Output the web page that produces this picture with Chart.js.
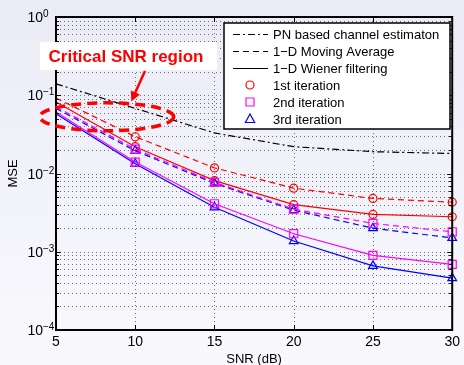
<!DOCTYPE html>
<html>
<head>
<meta charset="utf-8">
<script src="https://cdn.jsdelivr.net/npm/chart.js@4.4.0/dist/chart.umd.min.js"></script>
<style>
    html, body { margin: 0; padding: 0; }
    body { width: 464px; height: 365px; overflow: hidden; background: linear-gradient(#ebebf7, #f9f9fd); }
</style>
</head>
<body>
<canvas id="mseChart" width="464" height="365"></canvas>
<script>
// SNR (dB) on the x axis
const snr = [5, 10, 15, 20, 25, 30];
// MSE values
const pnBased = [0.14, 0.068, 0.033, 0.022, 0.019, 0.018];
const movAvg1 = [0.092, 0.0295, 0.0118, 0.0065, 0.0048, 0.0043];
const movAvg2 = [0.071, 0.0205, 0.0077, 0.0035, 0.0023, 0.0018];
const movAvg3 = [0.068, 0.0195, 0.0075, 0.0034, 0.0020, 0.0015];
const wiener1 = [0.082, 0.022, 0.0081, 0.0040, 0.0030, 0.0028];
const wiener2 = [0.061, 0.0140, 0.0041, 0.0017, 0.00090, 0.00069];
const wiener3 = [0.058, 0.0133, 0.0037, 0.00137, 0.00066, 0.00046];
const xTicks = [5, 10, 15, 20, 25, 30];
const yDecades = [-4, -3, -2, -1, 0];
const legendLabels = ['PN based channel estimaton', '1\u2212D Moving Average', '1\u2212D Wiener filtering',
    '1st iteration', '2nd iteration', '3rd iteration'];
const noteText = 'Critical SNR region';

const FONT = '"Liberation Sans", Arial, Helvetica, sans-serif';
const RED = '#ff0000', MAG = '#ff00ff', BLUE = '#0000ff';
const DASH = [6, 4], DASHDOT = [7, 3, 2, 3];

function pts(vals) {
    return snr.map((x, i) => ({ x: x, y: vals[i] }));
}

function series(label, vals, color, dash, style, radius) {
    // no marker at the first SNR point, like the original figure
    const r = snr.map((x, i) => (i == 0 ? 0 : radius));
    return {
        label: label,
        data: pts(vals),
        borderColor: color,
        borderWidth: 1.2,
        borderDash: dash,
        pointStyle: style,
        pointRadius: r,
        pointHoverRadius: r,
        pointBorderColor: color,
        pointBorderWidth: 1.2,
        pointBackgroundColor: 'rgba(0,0,0,0)',
        fill: false,
        tension: 0,
        clip: false
    };
}

function drawMarker(ctx, style, x, y, color) {
    ctx.save();
    ctx.strokeStyle = color;
    ctx.lineWidth = 1.2;
    ctx.setLineDash([]);
    ctx.beginPath();
    if (style == 'circle') {
        ctx.arc(x, y, 4, 0, Math.PI * 2);
    } else if (style == 'rect') {
        ctx.rect(x - 4, y - 4, 8, 8);
    } else {
        ctx.moveTo(x, y - 5);
        ctx.lineTo(x + 4.6, y + 3.5);
        ctx.lineTo(x - 4.6, y + 3.5);
        ctx.closePath();
    }
    ctx.stroke();
    ctx.restore();
}

const gridPlugin = {
    id: 'dotgrid',
    beforeDatasetsDraw(chart) {
        const ctx = chart.ctx;
        const a = chart.chartArea;
        const xs = chart.scales.x, ys = chart.scales.y;
        ctx.save();
        ctx.strokeStyle = '#6e6e6e';
        ctx.lineWidth = 1;
        ctx.setLineDash([1, 3]);
        ctx.beginPath();
        ys.ticks.forEach(t => {
            const py = Math.round(ys.getPixelForValue(t.value)) + 0.5;
            ctx.moveTo(a.left, py); ctx.lineTo(a.right, py);
        });
        xs.ticks.forEach(t => {
            const px = Math.round(xs.getPixelForValue(t.value)) + 0.5;
            ctx.moveTo(px, a.bottom); ctx.lineTo(px, a.top);
        });
        ctx.stroke();
        ctx.restore();
    }
};

const framePlugin = {
    id: 'frame',
    afterDatasetsDraw(chart) {
        const ctx = chart.ctx;
        const a = chart.chartArea;
        const xs = chart.scales.x, ys = chart.scales.y;
        ctx.save();

        // inward ticks
        ctx.strokeStyle = '#000';
        ctx.lineWidth = 1;
        ctx.beginPath();
        ys.ticks.forEach(t => {
            const py = Math.round(ys.getPixelForValue(t.value)) + 0.5;
            const lg = Math.log10(t.value);
            const len = Math.abs(lg - Math.round(lg)) < 1e-6 ? 5 : 3;
            ctx.moveTo(a.left, py); ctx.lineTo(a.left + len, py);
            ctx.moveTo(a.right, py); ctx.lineTo(a.right - len, py);
        });
        xs.ticks.forEach(t => {
            const px = Math.round(xs.getPixelForValue(t.value)) + 0.5;
            ctx.moveTo(px, a.bottom); ctx.lineTo(px, a.bottom - 5);
            ctx.moveTo(px, a.top); ctx.lineTo(px, a.top + 5);
        });
        ctx.stroke();

        // box
        ctx.lineWidth = 2;
        ctx.strokeRect(a.left, a.top, a.right - a.left, a.bottom - a.top);

        // y labels 10^n
        ctx.fillStyle = '#000';
        yDecades.forEach(e => {
            const py = ys.getPixelForValue(Math.pow(10, e));
            ctx.font = '14px ' + FONT;
            ctx.textAlign = 'right';
            ctx.textBaseline = 'alphabetic';
            ctx.fillText('10', a.left - 13, py + 5);
            ctx.font = '10px ' + FONT;
            ctx.textAlign = 'left';
            ctx.fillText(e == 0 ? '0' : '\u2212' + Math.abs(e), a.left - 13, py);
        });

        // legend
        const lx = 224, ly = 23, lw = 226, lh = 106;
        ctx.fillStyle = '#fff';
        ctx.fillRect(lx, ly, lw, lh);
        ctx.strokeStyle = '#000';
        ctx.lineWidth = 1.5;
        ctx.strokeRect(lx, ly, lw, lh);
        const rows = [34, 51, 68, 85, 102, 119];
        const lineDash = [DASHDOT, DASH, []];
        ctx.font = '13px ' + FONT;
        ctx.textAlign = 'left';
        ctx.textBaseline = 'middle';
        legendLabels.forEach((lab, i) => {
            const ry = rows[i];
            if (i < 3) {
                ctx.save();
                ctx.strokeStyle = '#000';
                ctx.lineWidth = 1.2;
                ctx.setLineDash(lineDash[i]);
                ctx.beginPath();
                ctx.moveTo(233, ry + 0.5);
                ctx.lineTo(268, ry + 0.5);
                ctx.stroke();
                ctx.restore();
            } else {
                drawMarker(ctx, ['circle', 'rect', 'triangle'][i - 3], 250, ry, [RED, MAG, BLUE][i - 3]);
            }
            ctx.fillStyle = '#000';
            ctx.fillText(lab, 273, ry + 1);
        });

        // critical region annotation
        const cx = xs.getPixelForValue(8.2), cy = ys.getPixelForValue(0.053);
        ctx.save();
        ctx.strokeStyle = RED;
        ctx.lineWidth = 3.5;
        ctx.setLineDash([10, 6]);
        ctx.beginPath();
        ctx.ellipse(cx, cy, 67, 14, 0, 0, Math.PI * 2);
        ctx.stroke();
        ctx.restore();

        ctx.fillStyle = '#fff';
        ctx.fillRect(40, 42, 177, 28);
        ctx.fillStyle = RED;
        ctx.font = 'bold 17px ' + FONT;
        ctx.textAlign = 'center';
        ctx.textBaseline = 'middle';
        ctx.fillText(noteText, 126, 57);

        // arrow
        const tx = xs.getPixelForValue(9.75), ty = ys.getPixelForValue(0.083);
        const fx = 145, fy = 71;
        const ang = Math.atan2(ty - fy, tx - fx);
        ctx.strokeStyle = RED;
        ctx.lineWidth = 2.5;
        ctx.beginPath();
        ctx.moveTo(fx, fy);
        ctx.lineTo(tx - 6 * Math.cos(ang), ty - 6 * Math.sin(ang));
        ctx.stroke();
        ctx.beginPath();
        ctx.moveTo(tx, ty);
        ctx.lineTo(tx - 10 * Math.cos(ang) + 5 * Math.sin(ang), ty - 10 * Math.sin(ang) - 5 * Math.cos(ang));
        ctx.lineTo(tx - 10 * Math.cos(ang) - 5 * Math.sin(ang), ty - 10 * Math.sin(ang) + 5 * Math.cos(ang));
        ctx.closePath();
        ctx.fill();

        ctx.restore();
    }
};

const ctx = document.getElementById('mseChart').getContext('2d');
new Chart(ctx, {
    type: 'line',
    data: {
        datasets: [
            series(legendLabels[0], pnBased, '#000', DASHDOT, false, 0),
            series('MA 1st', movAvg1, RED, DASH, 'circle', 4),
            series('MA 2nd', movAvg2, MAG, DASH, 'rect', 5.7),
            series('MA 3rd', movAvg3, BLUE, DASH, 'triangle', 5),
            series('Wiener 1st', wiener1, RED, [], 'circle', 4),
            series('Wiener 2nd', wiener2, MAG, [], 'rect', 5.7),
            series('Wiener 3rd', wiener3, BLUE, [], 'triangle', 5)
        ]
    },
    options: {
        responsive: false,
        animation: false,
        devicePixelRatio: 1,
        layout: { padding: { left: 0, right: 8, top: 17, bottom: 0 } },
        plugins: { legend: { display: false }, tooltip: { enabled: false } },
        scales: {
            x: {
                type: 'linear',
                min: 5,
                max: 30,
                afterBuildTicks: s => { s.ticks = xTicks.map(v => ({ value: v })); },
                afterFit: s => { s.height = 35; },
                ticks: { color: '#000', font: { family: FONT, size: 14 }, padding: 4, maxRotation: 0 },
                grid: { display: false, drawTicks: false },
                border: { display: false },
                title: { display: true, text: 'SNR (dB)', color: '#000', font: { family: FONT, size: 13 }, padding: { top: 0, bottom: -2 } }
            },
            y: {
                type: 'logarithmic',
                min: 1e-4,
                max: 1,
                afterBuildTicks: s => {
                    const t = [];
                    yDecades.forEach(e => {
                        for (let k = 1; k <= 9; k++) {
                            const v = k * Math.pow(10, e);
                            if (v <= 1 + 1e-9) t.push({ value: v });
                        }
                    });
                    s.ticks = t;
                },
                afterFit: s => { s.width = 56; },
                ticks: { display: false },
                grid: { display: false, drawTicks: false },
                border: { display: false },
                title: { display: true, text: 'MSE', color: '#000', font: { family: FONT, size: 13 }, padding: { top: 6, bottom: 0 } }
            }
        }
    },
    plugins: [gridPlugin, framePlugin]
});
</script>
</body>
</html>
